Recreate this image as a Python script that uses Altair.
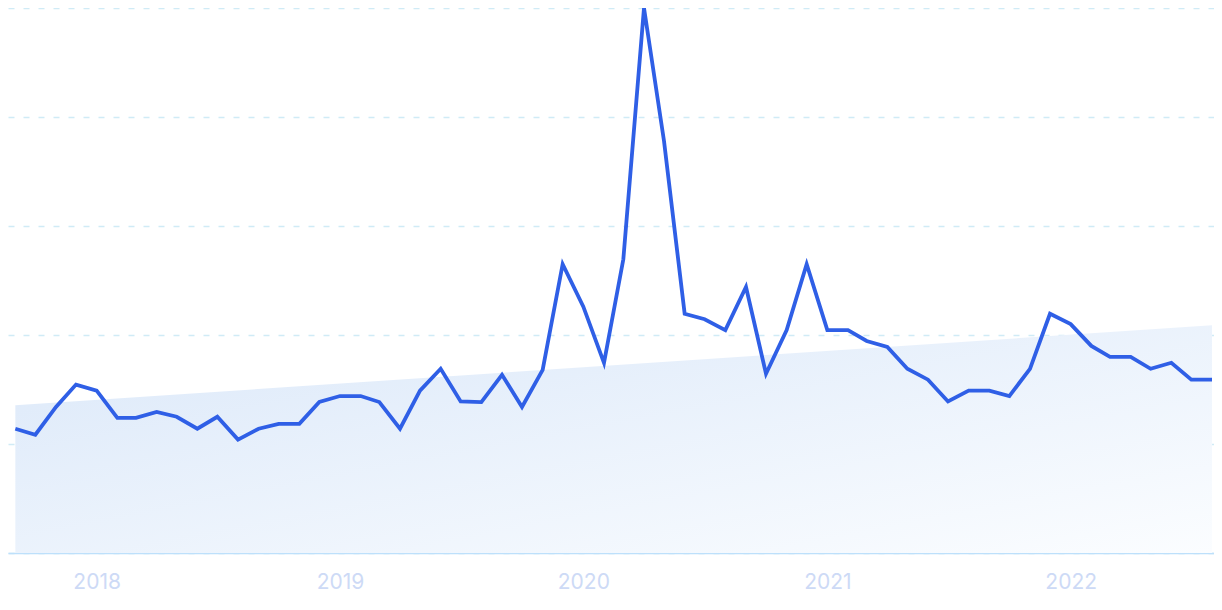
import altair as alt
import pandas as pd

# Monthly values (Sep 2017 .. Aug 2022), index 0-100
months = pd.date_range("2017-09-01", periods=60, freq="MS").strftime("%Y-%m-%dT00:00:00").tolist()
values = [
    22.8, 21.7, 26.8, 30.9, 29.8, 24.8, 24.8, 25.9, 25.0, 22.8, 25.0, 20.8,
    22.8, 23.7, 23.7, 27.7, 28.8, 28.8, 27.7, 22.8, 29.8, 33.8, 27.8, 27.7,
    32.7, 26.8, 33.6, 53.0, 45.2, 34.9, 53.9, 100.0, 75.6, 43.9, 42.9, 40.9,
    48.8, 32.9, 40.9, 53.0, 40.9, 40.9, 38.9, 37.8, 33.8, 31.8, 27.8, 29.8,
    29.8, 28.8, 33.8, 43.9, 42.0, 38.0, 36.0, 36.0, 33.8, 34.9, 31.8, 31.8,
]
# Trend band endpoints
trend_dates = [months[0], months[-1]]
trend_values = [27.1, 41.8]
year_ticks = [2018, 2019, 2020, 2021, 2022]

series = pd.DataFrame({"date": months, "value": values})
trend = pd.DataFrame({"date": trend_dates, "value": trend_values})

x_scale = alt.Scale(domain=[alt.DateTime(year=2017, month=8, date=21),
                            alt.DateTime(year=2022, month=8, date=4)])
y_scale = alt.Scale(domain=[0, 100], nice=False, zero=True)

x_axis = alt.Axis(
    values=[alt.DateTime(year=y, month=1, date=1) for y in year_ticks],
    format="%Y", title=None, grid=False, ticks=False,
    domain=True, domainColor="#bde0fb", domainWidth=1.6,
    labelFont="Inter", labelFontSize=21, labelColor="#cddaf6",
    labelPadding=18,
)
y_axis = alt.Axis(
    values=[0, 20, 40, 60, 80, 100], title=None, labels=False, ticks=False,
    domain=False, grid=True, gridColor="#d0ebf6", gridDash=[6, 9], gridWidth=1.3,
)

area = alt.Chart(trend).mark_area(
    fill=alt.Gradient(
        gradient="linear", x1=0, y1=0, x2=1, y2=1,
        stops=[alt.GradientStop(offset=0, color="#dbe8f9"),
               alt.GradientStop(offset=1, color="#fbfdff")],
    ),
    line=False,
).encode(
    x=alt.X("date:T", scale=x_scale, axis=x_axis),
    y=alt.Y("value:Q", scale=y_scale, axis=y_axis),
)

line = alt.Chart(series).mark_line(
    color="#2f5fe6", strokeWidth=3.8, clip=True,
).encode(
    x=alt.X("date:T", scale=x_scale),
    y=alt.Y("value:Q", scale=y_scale),
)

chart = alt.layer(area, line).properties(
    width=1206, height=545, padding=0, background="white",
).configure_view(stroke=None)

chart.save("out.html", embed_options={"renderer": "svg", "actions": False})
